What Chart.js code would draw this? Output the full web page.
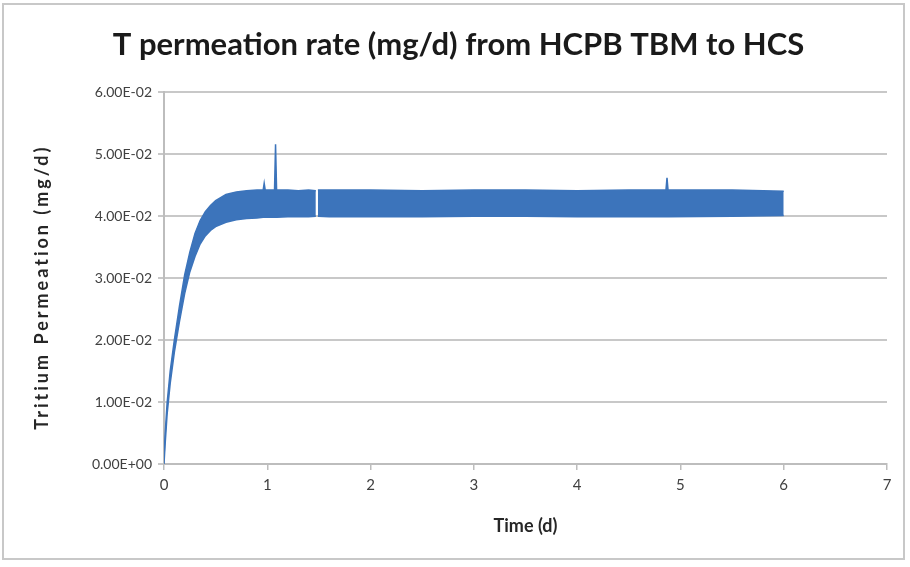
<!DOCTYPE html>
<html>
<head>
<meta charset="utf-8">
<script src="https://cdn.jsdelivr.net/npm/chart.js@4"></script>
<style>
  html, body { margin: 0; padding: 0; background: #fff; }
  #wrap { position: relative; width: 910px; height: 567px; }
  #frame { position: absolute; left: 2px; top: 3px; width: 903px; height: 557px; border: 2px solid #c8c8c8; box-sizing: border-box; pointer-events: none; }
</style>
</head>
<body>
<div id="wrap">
  <canvas id="permChart" width="910" height="567"></canvas>
  <div id="frame"></div>
</div>
<script>
// time in days, values in mg/d (upper / lower edge of the noisy band)
const time = [0, 0.01, 0.03, 0.06, 0.1, 0.15, 0.2, 0.25, 0.3, 0.35, 0.4, 0.45, 0.5, 0.6, 0.7, 0.8, 0.9, 0.96, 0.97, 0.98, 1.0, 1.07, 1.08, 1.09, 1.2, 1.3, 1.4, 1.47, 1.48, 1.49, 1.6, 2.0, 2.5, 3.0, 3.5, 4.0, 4.5, 4.86, 4.87, 4.88, 5.5, 6.0];
const upper = [0.0010, 0.0045, 0.0098, 0.0150, 0.0200, 0.0255, 0.0305, 0.0342, 0.0372, 0.0393, 0.0407, 0.0417, 0.0425, 0.0435, 0.0439, 0.0441, 0.0442, 0.0442, 0.0453, 0.0442, 0.0442, 0.0442, 0.0516, 0.0442, 0.0442, 0.0441, 0.0442, 0.0441, null, 0.0442, 0.0442, 0.0442, 0.0441, 0.0442, 0.0442, 0.0441, 0.0442, 0.0442, 0.0462, 0.0442, 0.0442, 0.0440];
const lower = [0.0000, 0.0030, 0.0080, 0.0130, 0.0180, 0.0230, 0.0275, 0.0310, 0.0335, 0.0355, 0.0368, 0.0377, 0.0383, 0.0390, 0.0394, 0.0396, 0.0397, 0.0398, 0.0398, 0.0398, 0.0398, 0.0398, 0.0398, 0.0398, 0.0399, 0.0399, 0.0399, 0.0400, null, 0.0400, 0.0399, 0.0399, 0.0399, 0.0400, 0.0400, 0.0399, 0.0399, 0.0399, 0.0399, 0.0399, 0.0400, 0.0401];
const yTicks = [0, 0.01, 0.02, 0.03, 0.04, 0.05, 0.06];
const xTicks = [0, 1, 2, 3, 4, 5, 6, 7];

const blue = '#3c74bb';

function sci(v) {
  if (v === 0) return '0.00E+00';
  const exp = Math.floor(Math.log10(Math.abs(v)) + 1e-9);
  const mant = v / Math.pow(10, exp);
  const sign = exp < 0 ? '-' : '+';
  return mant.toFixed(2) + 'E' + sign + String(Math.abs(exp)).padStart(2, '0');
}

// y axis title drawn by hand so it can be letter-spaced like the original
const yTitle = {
  id: 'yTitle',
  afterDraw(chart) {
    const c = chart.ctx;
    const area = chart.chartArea;
    c.save();
    c.translate(42, (area.top + area.bottom) / 2 + 9);
    c.rotate(-Math.PI / 2);
    c.font = 'bold 18px Lato';
    c.letterSpacing = '3px';
    c.fillStyle = '#262626';
    c.textAlign = 'center';
    c.textBaseline = 'middle';
    c.fillText('Tritium Permeation (mg/d)', 0, 0);
    c.restore();
  }
};

const ctx = document.getElementById('permChart').getContext('2d');

new Chart(ctx, {
  type: 'line',
  data: {
    datasets: [
      {
        label: 'upper',
        data: time.map((t, i) => ({ x: t, y: upper[i] })),
        borderColor: blue,
        backgroundColor: blue,
        borderWidth: 1.5,
        pointRadius: 0,
        tension: 0,
        spanGaps: false,
        fill: false
      },
      {
        label: 'lower',
        data: time.map((t, i) => ({ x: t, y: lower[i] })),
        borderColor: blue,
        backgroundColor: blue,
        borderWidth: 1.5,
        pointRadius: 0,
        tension: 0,
        spanGaps: false,
        fill: '-1'
      }
    ]
  },
  options: {
    responsive: false,
    animation: false,
    layout: { padding: { left: 30, right: 23, top: 0, bottom: 30 } },
    plugins: {
      legend: { display: false },
      tooltip: { enabled: false },
      title: {
        display: true,
        text: 'T permeation rate (mg/d) from HCPB TBM to HCS',
        color: '#1a1a1a',
        font: { family: 'Lato', size: 31, weight: 'bold', lineHeight: 1.2 },
        padding: { top: 26, bottom: 29 }
      }
    },
    scales: {
      x: {
        type: 'linear',
        min: 0,
        max: 7,
        afterBuildTicks: s => { s.ticks = xTicks.map(v => ({ value: v })); },
        afterFit: s => { s.height = 73; },
        border: { color: '#bdbdbd', width: 2 },
        grid: { drawOnChartArea: false, drawTicks: true, tickLength: 6, color: '#bdbdbd', lineWidth: 1.5 },
        ticks: { color: '#404040', font: { family: 'Lato', size: 15 }, padding: 6 },
        title: {
          display: true,
          text: 'Time (d)',
          color: '#262626',
          font: { family: 'Lato', size: 18, weight: 'bold' },
          padding: { top: 6, bottom: 0 }
        }
      },
      y: {
        min: 0,
        max: 0.06,
        afterBuildTicks: s => { s.ticks = yTicks.map(v => ({ value: v })); },
        afterFit: s => { s.width = 134; },
        border: { color: '#bdbdbd', width: 2 },
        grid: { color: '#c8c8c8', lineWidth: 2, drawTicks: true, tickLength: 6 },
        ticks: {
          color: '#404040',
          font: { family: 'Lato', size: 14 },
          padding: 6,
          callback: v => sci(v)
        }
      }
    }
  },
  plugins: [yTitle]
});
</script>
</body>
</html>
